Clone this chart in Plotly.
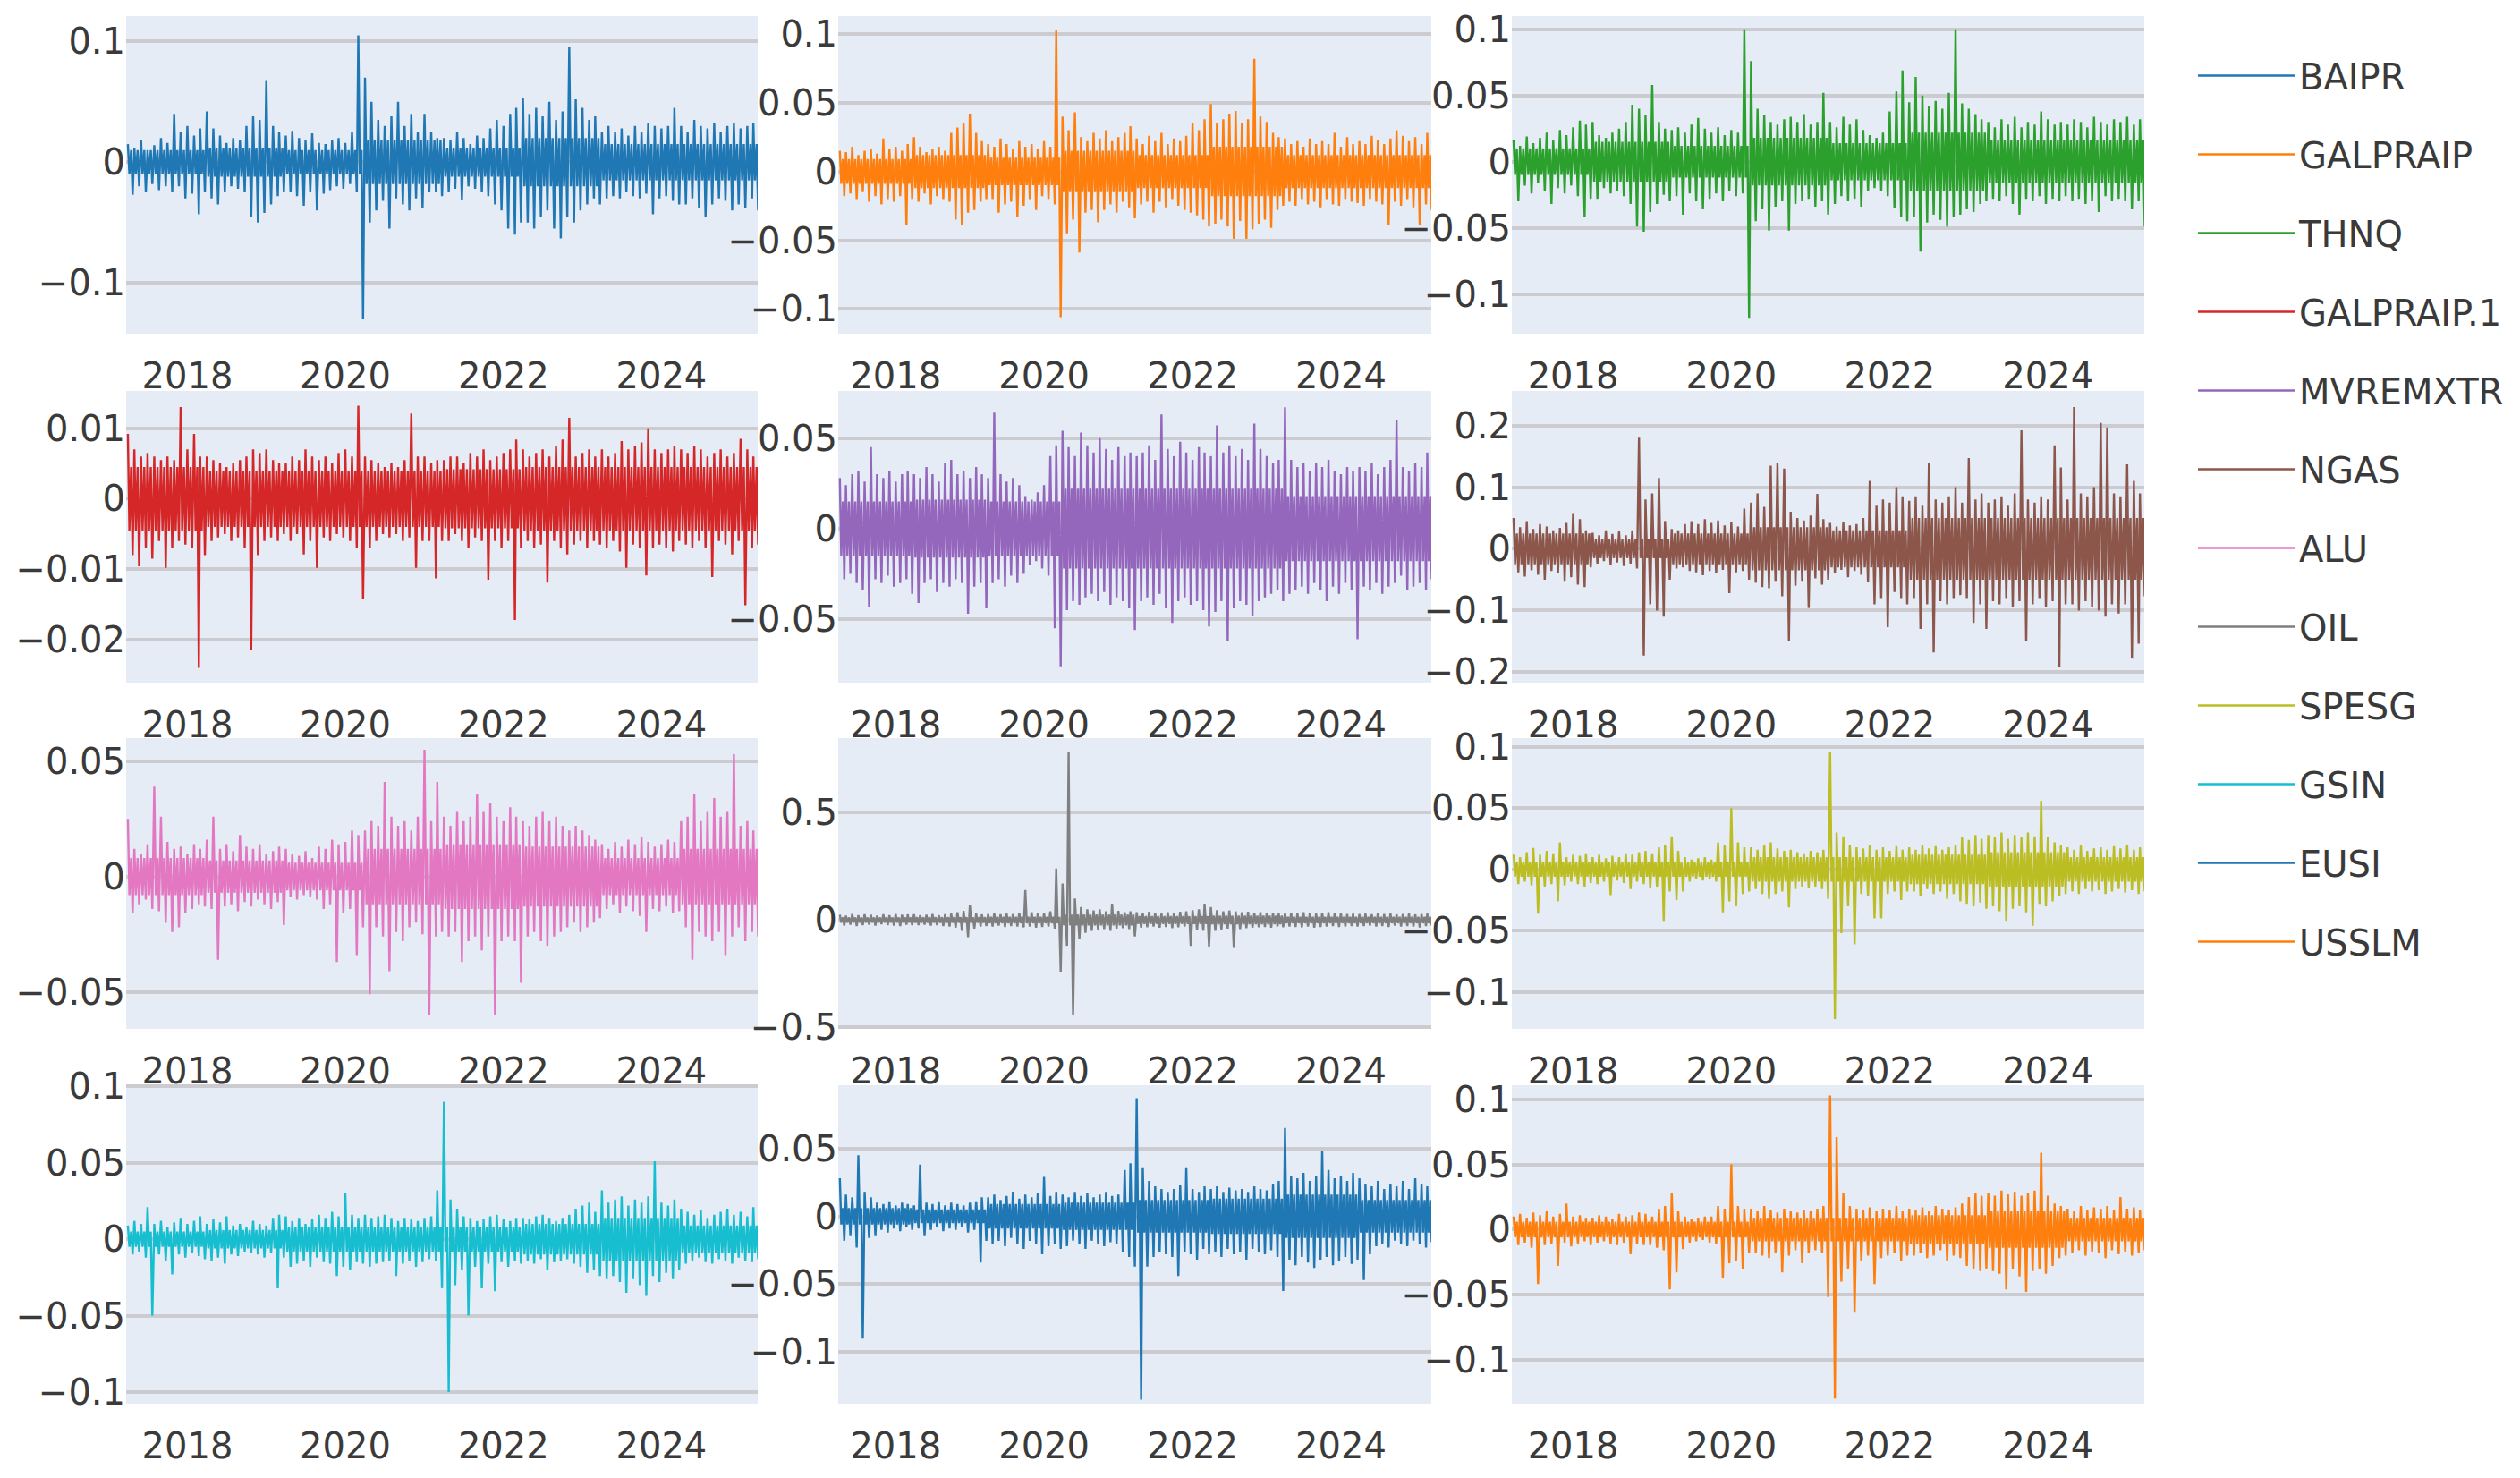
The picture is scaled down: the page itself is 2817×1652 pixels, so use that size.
import pandas as pd
import plotly.graph_objects as go

# Monthly high / low of daily returns, in percent, Apr 2017 .. Mar 2025 (96 months)
MONTHS = pd.date_range("2017-04-01", periods=96, freq="MS")

BAIPR_HI = [1.5,1.2,1.8,1.0,1.4,2.0,1.6,4.0,2.5,3.0,2.2,2.8,
            4.2,2.8,2.2,1.6,2.0,1.8,3.0,3.8,3.5,6.8,3.0,2.5,
            2.2,2.6,2.0,1.8,2.4,1.6,1.5,1.8,2.0,1.6,2.5,10.5,
            7.0,5.0,3.5,3.0,3.8,5.0,3.0,4.0,2.5,4.0,2.5,2.0,
            2.0,1.8,2.5,2.0,1.5,2.2,2.0,2.8,3.5,3.0,4.0,4.5,
            5.3,4.0,4.5,3.8,5.0,3.5,4.2,9.5,5.2,4.5,3.5,3.8,
            2.5,3.0,2.5,2.8,2.2,3.0,2.5,3.2,3.0,2.8,3.0,4.5,
            3.0,2.5,3.5,3.0,2.8,3.2,2.5,3.0,3.2,2.8,3.0,3.2]
BAIPR_LO = [-2.7,-2.0,-2.5,-1.8,-2.3,-2.0,-2.5,-2.0,-3.0,-2.6,-4.3,-2.5,
            -3.0,-3.5,-2.5,-2.0,-2.2,-2.5,-4.5,-5.0,-4.2,-3.5,-2.8,-2.5,
            -2.5,-2.8,-3.6,-2.5,-4.0,-2.6,-2.3,-2.0,-2.2,-1.8,-2.5,-13.0,
            -5.0,-4.0,-3.2,-5.5,-3.0,-3.5,-4.0,-3.0,-3.8,-2.5,-2.5,-2.8,
            -2.5,-2.2,-3.1,-2.0,-2.2,-2.5,-2.8,-3.5,-4.0,-5.5,-6.0,-5.0,
            -5.0,-5.5,-4.5,-4.0,-5.5,-6.3,-4.5,-5.0,-4.0,-3.5,-3.0,-3.5,
            -3.0,-2.8,-3.0,-2.5,-2.8,-3.0,-2.6,-4.3,-3.0,-2.8,-3.2,-3.5,
            -3.5,-3.0,-3.8,-4.5,-3.5,-3.0,-3.2,-4.0,-3.5,-3.8,-3.0,-4.0]

GALPRAIP_HI = [1.5,1.4,1.8,1.2,1.5,1.6,1.3,2.4,1.6,1.8,1.5,2.0,
               2.5,1.8,1.4,1.6,1.8,1.5,2.8,3.2,3.5,4.2,2.8,2.2,
               2.0,1.8,2.4,2.0,1.6,2.2,1.8,2.0,1.6,2.2,1.8,10.3,
               4.0,3.0,4.3,2.5,2.2,2.8,2.4,3.0,2.2,2.5,2.8,3.3,
               2.4,2.0,2.6,2.2,2.8,2.0,2.4,2.2,2.6,3.5,3.0,3.8,
               4.9,3.5,3.8,4.2,4.4,3.5,3.8,8.2,4.0,3.6,2.8,2.5,
               2.4,2.0,2.2,1.8,2.4,2.0,2.2,2.0,2.8,1.8,2.5,2.0,
               2.2,2.0,2.6,2.3,2.0,2.4,3.0,2.6,2.2,2.5,2.0,2.8]
GALPRAIP_LO = [-1.8,-1.6,-2.0,-1.5,-2.2,-1.8,-2.4,-2.0,-2.2,-1.8,-3.9,-2.0,
               -2.2,-1.6,-2.4,-1.8,-2.0,-2.2,-3.5,-3.9,-3.0,-2.8,-2.2,-2.0,
               -2.0,-3.0,-2.4,-2.2,-3.3,-2.5,-2.0,-2.8,-1.8,-2.0,-2.4,-10.6,
               -4.5,-3.5,-5.9,-3.0,-2.8,-3.7,-2.8,-2.4,-3.0,-2.2,-2.6,-3.4,
               -2.4,-2.2,-3.0,-2.2,-2.6,-2.0,-2.5,-2.8,-3.0,-3.2,-3.5,-4.0,
               -3.8,-3.5,-4.0,-4.9,-3.6,-4.9,-4.2,-3.8,-3.5,-4.1,-2.8,-2.5,
               -2.2,-2.5,-2.0,-2.4,-2.2,-2.6,-2.0,-2.4,-2.5,-2.0,-2.2,-2.3,
               -2.5,-2.0,-2.2,-2.4,-3.9,-2.2,-2.5,-2.0,-2.6,-3.9,-2.4,-2.8]

THNQ_HI = [1.6,1.2,1.9,1.4,1.8,2.2,1.6,2.4,2.0,2.6,3.1,2.8,
           3.0,2.0,1.8,2.2,2.5,3.0,4.3,4.0,3.5,5.8,3.0,2.5,
           2.4,2.6,2.2,2.8,3.3,2.5,2.2,2.6,2.0,2.4,2.2,10.0,
           7.6,4.0,3.5,3.0,2.8,3.2,3.4,3.0,3.6,2.8,3.0,5.2,
           3.0,2.6,3.4,2.8,3.2,2.4,2.0,1.8,2.2,3.8,5.3,6.9,
           4.5,6.4,5.0,4.2,4.6,4.0,5.2,10.0,4.4,4.0,3.6,3.2,
           3.0,2.6,3.2,2.8,3.4,2.6,3.0,2.8,3.8,3.2,2.8,3.0,
           2.8,3.2,3.0,2.6,3.4,3.0,2.8,3.2,3.0,3.4,2.8,3.2]
THNQ_LO = [-3.0,-1.8,-2.4,-1.6,-2.2,-3.2,-2.0,-2.4,-1.8,-2.6,-4.2,-2.8,
           -2.8,-2.0,-2.4,-2.2,-2.6,-3.2,-4.9,-5.3,-3.8,-3.2,-2.5,-3.0,
           -2.6,-4.0,-2.4,-3.0,-3.6,-2.8,-2.4,-3.0,-2.2,-2.6,-2.4,-11.8,
           -4.5,-3.6,-5.2,-3.4,-3.0,-5.2,-3.2,-3.0,-2.8,-3.4,-3.0,-4.0,
           -3.2,-2.6,-3.0,-2.8,-3.4,-2.2,-2.0,-2.2,-2.6,-3.5,-4.2,-4.5,
           -4.2,-6.8,-4.6,-4.0,-4.4,-4.9,-4.2,-4.0,-3.6,-3.8,-3.2,-3.0,
           -2.8,-3.0,-2.6,-3.2,-4.0,-2.8,-3.0,-2.6,-3.2,-2.8,-3.0,-2.6,
           -3.0,-2.8,-3.2,-3.0,-3.8,-2.6,-3.0,-2.8,-3.0,-3.6,-3.0,-4.9]

GALPRAIP1_HI = [0.92,0.7,0.6,0.65,0.6,0.55,0.6,0.55,1.3,0.7,0.92,0.6,
                0.6,0.55,0.5,0.45,0.5,0.55,0.6,0.7,0.65,0.7,0.55,0.5,
                0.5,0.6,0.55,0.7,0.6,0.55,0.6,0.5,0.65,0.7,0.6,1.32,
                0.6,0.55,0.5,0.45,0.5,0.45,0.55,1.21,0.6,0.6,0.5,0.55,
                0.55,0.6,0.6,0.5,0.65,0.6,0.7,0.55,0.6,0.65,0.7,0.84,
                0.7,0.6,0.65,0.7,0.6,0.75,0.84,1.15,0.6,0.65,0.7,0.6,
                0.7,0.6,0.65,0.82,0.7,0.75,0.8,1.0,0.7,0.65,0.7,0.75,
                0.7,0.65,0.75,0.7,0.6,0.65,0.7,0.6,0.65,0.85,0.7,0.6]
GALPRAIP1_LO = [-0.8,-0.96,-0.7,-0.85,-0.6,-0.98,-0.7,-0.6,-0.65,-0.7,-2.4,-0.8,
                -0.6,-0.55,-0.5,-0.6,-0.55,-0.7,-2.14,-0.8,-0.6,-0.55,-0.6,-0.5,
                -0.6,-0.5,-0.79,-0.6,-0.98,-0.55,-0.6,-0.5,-0.55,-0.6,-0.7,-1.43,
                -0.7,-0.6,-0.5,-0.55,-0.5,-0.6,-0.55,-0.98,-0.6,-0.6,-1.13,-0.6,
                -0.6,-0.5,-0.6,-0.7,-0.55,-0.6,-1.15,-0.6,-0.7,-0.6,-1.72,-0.7,
                -0.6,-0.7,-0.65,-1.19,-0.6,-0.7,-0.79,-0.65,-0.6,-0.7,-0.6,-0.65,
                -0.7,-0.6,-0.75,-0.98,-0.65,-0.7,-1.09,-0.7,-0.65,-0.7,-0.75,-0.6,
                -0.65,-0.7,-0.6,-0.7,-1.11,-0.6,-0.65,-0.79,-0.6,-1.51,-0.7,-0.65]

MVREMXTR_HI = [2.8,2.4,3.0,3.2,2.6,4.5,3.0,2.8,3.2,2.6,3.0,3.2,
               3.0,2.8,3.4,3.0,2.6,3.6,3.8,3.0,3.2,2.8,3.4,3.0,
               2.8,6.4,3.0,2.6,2.8,2.4,1.8,1.6,2.0,2.4,4.0,4.6,
               5.4,4.5,4.0,5.3,4.6,4.2,5.0,4.4,3.8,4.5,4.0,4.2,
               4.0,4.2,4.6,3.8,6.3,4.4,4.0,4.8,4.2,3.8,4.5,4.2,
               4.0,5.7,4.2,4.6,4.0,4.4,3.8,5.8,4.4,4.0,3.6,3.8,
               6.7,3.8,3.4,3.6,3.2,3.6,3.4,3.8,3.2,3.0,3.4,3.2,
               3.4,3.2,3.6,3.0,3.4,3.8,6.0,3.4,3.2,3.6,3.4,4.2]
MVREMXTR_LO = [-2.8,-2.5,-3.0,-3.4,-4.3,-2.8,-3.0,-2.6,-3.2,-3.0,-2.8,-3.6,
               -4.1,-3.0,-2.8,-3.5,-3.0,-3.2,-2.8,-3.0,-4.7,-3.2,-3.0,-4.4,
               -3.0,-2.8,-3.2,-2.6,-3.0,-2.5,-2.0,-1.8,-2.2,-2.6,-5.5,-7.6,
               -4.5,-4.0,-4.2,-3.8,-3.6,-4.0,-3.5,-4.2,-3.8,-4.0,-4.4,-5.6,
               -4.0,-3.8,-4.2,-3.6,-4.4,-5.2,-4.0,-3.8,-4.2,-4.0,-4.5,-5.4,
               -4.6,-4.0,-6.2,-4.4,-4.0,-4.2,-4.8,-4.0,-3.8,-3.6,-3.4,-4.0,
               -3.6,-3.4,-3.2,-3.6,-3.0,-3.4,-4.0,-3.2,-3.6,-3.0,-3.4,-6.1,
               -3.2,-3.4,-3.0,-3.6,-3.2,-3.0,-2.6,-3.4,-3.2,-3.0,-3.4,-2.8]

NGAS_HI = [5.0,3.5,4.5,3.2,4.0,3.6,3.0,3.4,4.2,5.8,4.8,3.0,
           2.6,2.2,3.0,2.4,2.8,2.2,3.0,18.0,8.0,9.0,11.5,4.5,
           3.2,3.0,4.0,4.5,4.0,4.8,4.2,4.6,3.8,4.4,3.6,6.5,
           7.5,9.0,6.8,13.5,14.0,13.0,6.0,5.0,4.6,5.4,8.9,4.8,
           4.2,3.6,4.4,3.8,4.0,5.0,11.0,7.0,8.0,7.5,10.0,8.5,
           7.8,8.5,7.0,14.0,8.0,7.5,8.5,10.0,7.5,14.7,8.0,9.0,
           7.5,8.0,8.5,7.0,9.0,19.2,8.0,7.5,8.5,8.0,16.8,13.2,
           8.0,23.0,9.0,8.5,10.0,20.4,19.7,9.0,8.5,13.7,11.0,9.0]
NGAS_LO = [-3.8,-4.5,-3.5,-4.2,-5.0,-3.6,-4.0,-5.2,-4.6,-5.8,-6.2,-3.0,
           -2.4,-2.0,-2.6,-2.2,-2.8,-2.4,-3.2,-17.3,-9.0,-10.0,-11.0,-5.0,
           -3.2,-3.0,-3.6,-3.8,-4.3,-3.6,-4.0,-3.4,-7.2,-3.8,-3.6,-5.0,
           -5.5,-6.2,-6.4,-5.2,-7.7,-15.0,-6.0,-5.2,-9.6,-4.8,-5.8,-5.0,
           -4.0,-3.4,-4.6,-3.6,-4.2,-5.4,-9.0,-8.0,-12.7,-7.0,-8.0,-9.0,
           -8.0,-13.0,-9.0,-16.8,-8.5,-9.0,-8.0,-7.5,-8.0,-12.0,-9.0,-13.0,
           -8.5,-9.0,-8.0,-9.5,-8.5,-15.0,-9.0,-8.0,-9.5,-8.5,-19.2,-9.0,
           -9.0,-10.0,-8.5,-9.5,-10.0,-11.0,-9.0,-10.5,-9.0,-17.8,-15.4,-7.7]

ALU_HI = [2.5,1.2,1.0,1.4,3.9,2.6,1.5,1.2,1.3,1.0,1.4,1.2,
          1.6,2.6,1.2,1.4,1.1,1.8,1.3,1.2,1.4,1.0,1.1,1.3,
          1.2,1.0,0.9,1.1,0.8,1.3,1.2,1.6,1.4,1.5,2.0,1.8,
          2.0,2.4,2.2,4.1,2.6,2.2,2.4,2.0,2.6,5.5,2.4,4.1,
          2.6,2.2,2.8,2.4,2.6,3.6,2.8,3.2,2.6,2.4,3.0,2.6,
          2.4,2.2,2.6,2.8,2.4,2.6,2.2,2.0,2.2,2.0,1.8,1.6,
          1.4,1.2,1.5,1.3,1.6,1.4,1.7,1.5,1.3,1.4,1.6,1.5,
          2.4,2.6,3.6,2.4,2.8,3.4,2.6,2.8,5.3,2.2,2.4,2.0]
ALU_LO = [-1.6,-1.2,-1.0,-1.4,-1.5,-2.0,-2.4,-2.2,-1.6,-1.4,-1.2,-1.3,
          -1.4,-3.6,-1.3,-1.2,-1.5,-1.1,-1.3,-1.0,-1.2,-1.4,-1.1,-2.1,
          -0.9,-1.0,-0.8,-0.9,-1.0,-1.4,-1.2,-3.7,-1.6,-1.4,-3.4,-2.2,
          -5.1,-2.2,-2.6,-4.1,-2.4,-2.8,-2.2,-2.0,-2.5,-6.0,-2.6,-2.4,
          -2.6,-2.4,-3.7,-2.8,-2.6,-3.2,-2.6,-6.0,-2.8,-2.6,-2.8,-4.6,
          -2.6,-2.4,-2.8,-3.0,-2.6,-2.4,-2.2,-2.0,-2.4,-2.2,-2.0,-1.8,
          -1.4,-1.2,-1.6,-1.3,-1.5,-1.7,-2.4,-1.4,-1.5,-1.3,-1.6,-1.5,
          -2.2,-3.6,-2.4,-2.6,-2.8,-2.4,-3.4,-2.6,-2.2,-2.8,-2.4,-2.6]

OIL_HI = [2.4,2.0,2.8,2.2,2.6,2.4,2.0,2.6,2.2,2.8,2.4,2.6,
          2.6,2.2,2.4,2.8,2.2,2.6,3.0,3.6,4.2,7.0,3.0,2.6,
          2.8,3.2,2.6,3.0,2.8,3.4,14.0,3.6,3.0,3.2,4.0,24.0,
          17.0,78.0,10.0,6.0,5.0,4.5,5.0,4.0,7.6,4.2,3.6,4.0,
          3.6,3.2,3.8,3.4,3.0,3.6,3.2,3.8,4.0,4.6,5.0,7.6,
          6.0,4.6,4.0,4.4,4.0,3.6,3.8,3.4,3.6,3.2,3.4,3.0,
          3.2,3.4,3.0,3.6,3.2,3.0,3.4,3.6,3.0,3.2,2.8,3.0,
          2.8,3.0,2.6,3.2,2.8,3.0,2.6,2.8,3.0,2.6,2.8,3.0]
OIL_LO = [-2.6,-2.2,-2.8,-2.4,-2.2,-2.6,-2.0,-2.4,-2.6,-2.8,-2.2,-2.4,
          -2.4,-2.2,-2.6,-2.4,-2.8,-3.0,-3.6,-5.0,-8.0,-4.0,-3.0,-2.8,
          -3.0,-2.6,-3.2,-2.8,-3.0,-3.4,-3.0,-3.6,-3.2,-3.0,-4.0,-24.0,
          -12.0,-44.0,-9.0,-6.0,-5.0,-4.6,-4.2,-5.0,-4.0,-3.8,-4.2,-7.6,
          -3.6,-3.4,-3.0,-3.6,-3.2,-3.8,-3.4,-3.0,-12.0,-4.6,-5.0,-12.5,
          -5.0,-4.4,-4.0,-13.0,-4.2,-3.8,-3.6,-3.4,-3.2,-3.6,-3.0,-3.4,
          -3.0,-3.2,-3.4,-3.0,-3.6,-3.2,-3.0,-2.8,-3.2,-3.0,-2.8,-3.0,
          -2.8,-2.6,-3.0,-2.8,-3.2,-2.6,-3.0,-2.8,-3.0,-3.4,-2.8,-2.6]

SPESG_HI = [1.2,1.0,1.4,1.75,1.2,1.5,1.3,2.2,1.0,1.2,1.1,1.3,
            1.0,1.2,0.9,1.1,1.0,1.3,1.2,1.4,1.5,1.3,1.8,2.0,
            2.7,1.5,1.0,0.8,0.9,1.0,0.8,2.2,2.0,5.0,2.2,1.8,
            1.8,1.6,2.0,2.2,1.7,1.5,1.6,1.4,1.3,1.5,1.4,1.6,
            9.6,3.0,2.7,2.0,1.8,1.7,2.0,1.6,1.8,1.5,1.9,1.6,
            1.8,1.6,2.0,1.7,1.9,1.6,1.8,2.0,2.6,2.4,2.8,2.5,
            2.8,2.6,3.0,2.5,2.8,2.6,3.0,2.7,5.6,2.6,2.2,2.0,
            1.8,1.6,2.0,1.5,1.7,1.8,1.6,1.9,1.7,2.0,1.6,1.8]
SPESG_LO = [-1.2,-1.0,-1.3,-3.6,-1.4,-1.2,-2.6,-1.3,-1.0,-1.2,-1.4,-1.1,
            -1.2,-1.0,-2.1,-0.9,-1.1,-1.6,-1.0,-1.2,-1.5,-1.4,-4.2,-1.8,
            -2.5,-1.8,-1.0,-0.8,-0.9,-0.8,-1.0,-3.5,-2.6,-3.0,-2.0,-1.8,
            -1.6,-2.0,-2.4,-2.0,-1.8,-3.1,-1.6,-1.4,-1.5,-1.4,-1.6,-2.4,
            -12.2,-5.2,-3.0,-6.1,-2.0,-2.2,-4.0,-4.0,-2.0,-1.8,-2.5,-1.8,
            -1.8,-2.2,-1.6,-2.0,-1.8,-2.4,-2.0,-2.6,-2.8,-3.0,-2.7,-3.2,
            -3.0,-3.4,-4.2,-3.2,-3.0,-3.5,-4.6,-2.8,-3.0,-2.6,-2.2,-2.0,
            -1.8,-2.0,-1.6,-1.8,-1.7,-2.0,-1.8,-1.6,-1.9,-1.7,-2.0,-1.8]

GSIN_HI = [0.9,1.2,1.0,2.1,1.0,1.2,0.8,1.1,1.4,1.0,1.2,1.5,
           1.0,1.3,1.1,1.5,0.9,1.0,0.8,1.2,1.0,0.9,1.4,1.6,
           1.5,1.2,1.4,1.0,1.3,1.6,1.4,1.8,1.5,3.0,1.6,1.4,
           1.6,1.4,1.5,1.6,1.4,1.2,1.4,1.3,1.2,1.4,1.5,3.2,
           9.0,2.6,2.0,1.5,1.4,1.2,1.3,1.5,1.6,1.3,1.2,1.4,
           1.4,1.3,1.5,1.6,1.4,1.2,1.4,1.6,2.0,2.2,2.4,1.8,
           3.2,2.4,2.6,2.8,2.2,2.6,2.4,2.8,5.1,2.4,2.2,2.6,
           2.0,1.8,1.6,1.9,1.4,1.6,1.8,2.0,1.6,1.8,1.5,2.1]
GSIN_LO = [-1.0,-0.8,-1.2,-5.0,-1.0,-1.4,-2.3,-1.0,-1.2,-0.9,-1.1,-1.3,
           -1.4,-1.2,-1.6,-1.0,-1.1,-0.8,-0.9,-1.0,-1.2,-0.9,-3.2,-1.2,
           -1.8,-1.6,-1.4,-1.8,-1.2,-1.5,-1.6,-2.4,-1.8,-2.0,-1.5,-1.6,
           -1.8,-1.6,-1.5,-1.4,-2.4,-1.6,-1.4,-1.8,-1.5,-1.3,-1.4,-3.2,
           -10.0,-3.0,-2.0,-5.0,-1.8,-3.2,-1.6,-3.4,-1.5,-1.8,-1.4,-1.6,
           -1.4,-1.6,-1.3,-2.0,-1.5,-1.4,-1.3,-1.6,-1.8,-2.2,-2.0,-2.4,
           -2.6,-2.4,-2.8,-3.5,-2.6,-3.0,-3.7,-2.4,-2.8,-2.2,-2.6,-2.0,
           -1.6,-1.4,-1.2,-1.5,-1.6,-1.3,-1.4,-1.6,-1.2,-1.4,-1.5,-1.3]

EUSI_HI = [2.8,1.6,1.4,4.5,1.8,1.4,1.0,0.9,1.1,0.8,1.0,0.9,
           0.8,3.8,1.0,0.9,1.1,0.8,1.0,0.9,0.8,1.0,1.1,1.4,
           1.4,1.6,1.2,1.5,1.8,1.3,1.6,1.4,1.7,2.9,1.5,1.8,
           1.6,1.4,1.8,1.5,1.7,1.4,1.6,1.8,1.5,1.6,3.4,3.9,
           8.7,3.6,2.6,2.2,2.0,1.8,2.0,2.3,3.6,2.0,1.8,2.2,
           2.0,2.2,1.8,2.1,1.9,2.0,1.8,2.2,2.0,1.9,2.4,2.6,
           6.5,3.0,2.8,3.2,2.6,3.0,4.8,3.4,2.8,3.0,2.6,3.2,
           2.8,2.4,2.2,2.6,2.0,2.4,2.2,2.6,2.0,2.8,2.4,2.2]
EUSI_LO = [-1.8,-1.4,-2.3,-9.0,-1.6,-1.4,-1.0,-1.2,-0.9,-1.1,-0.8,-1.0,
           -0.9,-1.4,-1.0,-0.8,-1.1,-0.9,-1.0,-0.8,-1.2,-1.0,-3.4,-1.8,
           -2.0,-1.8,-2.2,-1.6,-2.0,-2.4,-1.8,-2.0,-2.8,-2.2,-2.0,-2.4,
           -2.2,-1.8,-2.0,-2.4,-1.8,-2.0,-2.2,-1.9,-2.0,-2.6,-3.0,-3.7,
           -13.5,-3.7,-3.0,-2.6,-2.8,-3.0,-4.4,-2.6,-2.8,-3.2,-2.4,-2.8,
           -2.6,-3.0,-2.4,-2.8,-2.6,-3.2,-2.4,-2.6,-2.8,-2.5,-3.0,-5.5,
           -3.2,-3.6,-3.0,-3.4,-3.8,-3.2,-3.0,-3.6,-3.3,-3.0,-3.5,-3.2,
           -4.7,-2.8,-2.2,-2.0,-2.3,-1.8,-2.0,-2.2,-1.8,-2.0,-2.3,-1.9]

USSLM_HI = [1.0,1.2,0.9,1.3,1.1,1.4,1.0,1.2,2.0,1.0,1.1,0.9,
            0.9,1.1,1.0,0.8,1.2,1.0,1.1,1.3,1.2,1.0,1.6,1.8,
            2.8,1.4,1.0,0.8,0.9,1.0,1.0,1.8,1.6,5.0,1.8,1.6,
            1.6,1.4,1.8,1.5,1.3,1.6,1.4,1.3,1.5,1.4,1.6,1.8,
            10.3,7.1,2.8,1.8,1.6,1.5,1.7,1.4,1.6,1.5,1.8,1.4,
            1.6,1.5,1.7,1.4,1.8,1.6,1.5,1.7,2.0,2.5,2.8,2.6,
            2.8,2.6,3.0,2.7,2.9,2.6,2.8,3.0,5.9,2.6,2.0,1.8,
            1.6,1.4,1.8,1.5,1.7,1.6,1.8,1.5,2.5,1.6,1.7,1.5]
USSLM_LO = [-1.2,-1.0,-1.4,-4.2,-1.2,-1.1,-2.8,-1.0,-1.3,-1.1,-0.9,-1.2,
            -1.0,-0.9,-1.1,-1.2,-1.0,-1.9,-1.1,-1.2,-1.2,-1.4,-1.6,-4.6,
            -3.3,-1.5,-1.0,-0.9,-0.8,-1.0,-1.1,-3.7,-2.6,-2.4,-3.0,-1.8,
            -1.8,-2.0,-2.2,-1.8,-3.3,-2.0,-1.6,-2.6,-1.8,-1.6,-1.8,-5.2,
            -13.0,-4.0,-3.0,-6.4,-2.4,-2.0,-4.2,-2.2,-2.0,-1.8,-2.4,-2.0,
            -2.0,-1.8,-2.2,-2.0,-1.6,-2.4,-2.0,-2.2,-2.8,-3.0,-3.2,-3.0,
            -3.2,-3.4,-4.6,-3.0,-3.6,-4.8,-3.2,-3.0,-3.4,-2.8,-2.2,-2.0,
            -1.8,-1.6,-2.0,-1.7,-1.8,-2.2,-1.6,-1.9,-1.7,-2.0,-1.8,-1.6]

# Typical (core band) daily move per year Apr..Mar, in percent
BAIPR_CORE = [1.0, 1.2, 1.0, 1.8, 1.2, 2.0, 1.5, 1.5]
GALPRAIP_CORE = [0.9, 1.2, 1.0, 1.5, 1.2, 1.8, 1.2, 1.2]
THNQ_CORE = [1.0, 1.5, 1.2, 1.8, 1.4, 2.2, 1.6, 1.6]
GALPRAIP1_CORE = [0.45, 0.4, 0.4, 0.4, 0.42, 0.45, 0.45, 0.45]
MVREMXTR_CORE = [1.5, 1.6, 1.5, 2.2, 2.2, 2.2, 1.8, 1.8]
NGAS_CORE = [2.5, 1.5, 2.5, 3.5, 3.0, 5.0, 5.0, 5.0]
ALU_CORE = [0.8, 0.7, 0.6, 1.2, 1.4, 1.3, 0.8, 1.2]
OIL_CORE = [1.2, 1.3, 1.5, 2.5, 1.8, 2.0, 1.5, 1.5]
SPESG_CORE = [0.6, 0.6, 0.6, 1.0, 1.0, 1.2, 1.4, 1.0]
GSIN_CORE = [0.5, 0.6, 0.8, 0.8, 0.8, 1.0, 1.4, 0.9]
EUSI_CORE = [0.6, 0.5, 0.9, 1.0, 1.2, 1.3, 1.6, 1.2]
USSLM_CORE = [0.6, 0.6, 0.6, 0.9, 0.9, 1.1, 1.4, 0.9]

NAMES = ["BAIPR", "GALPRAIP", "THNQ", "GALPRAIP.1", "MVREMXTR", "NGAS",
         "ALU", "OIL", "SPESG", "GSIN", "EUSI", "USSLM"]
HIGHS = [BAIPR_HI, GALPRAIP_HI, THNQ_HI, GALPRAIP1_HI, MVREMXTR_HI, NGAS_HI,
         ALU_HI, OIL_HI, SPESG_HI, GSIN_HI, EUSI_HI, USSLM_HI]
LOWS = [BAIPR_LO, GALPRAIP_LO, THNQ_LO, GALPRAIP1_LO, MVREMXTR_LO, NGAS_LO,
        ALU_LO, OIL_LO, SPESG_LO, GSIN_LO, EUSI_LO, USSLM_LO]
CORES = [BAIPR_CORE, GALPRAIP_CORE, THNQ_CORE, GALPRAIP1_CORE, MVREMXTR_CORE,
         NGAS_CORE, ALU_CORE, OIL_CORE, SPESG_CORE, GSIN_CORE, EUSI_CORE, USSLM_CORE]

# ---- styling / layout ----
COLORS = ["#1f77b4", "#ff7f0e", "#2ca02c", "#d62728", "#9467bd", "#8c564b",
          "#e377c2", "#7f7f7f", "#bcbd22", "#17becf", "#1f77b4", "#ff7f0e"]
Y_RANGES = [[-0.142, 0.121], [-0.118, 0.113], [-0.130, 0.110],
            [-0.0261, 0.0153], [-0.085, 0.076], [-0.217, 0.256],
            [-0.066, 0.060], [-0.507, 0.847], [-0.130, 0.107],
            [-0.1076, 0.1008], [-0.138, 0.0965], [-0.134, 0.111]]
Y_DTICKS = [0.1, 0.05, 0.05, 0.01, 0.05, 0.1, 0.05, 0.5, 0.05, 0.05, 0.05, 0.05]

W, H = 2817, 1652
PAGE = 8  # default page margin of the html body


def fx(px):
    return (px - PAGE) / W


def fy(py):
    return 1 - (py - PAGE) / H


X_DOMS = [[fx(141), fx(847)], [fx(937), fx(1600)], [fx(1690), fx(2397)]]
Y_DOMS = [[fy(373), fy(18)], [fy(763), fy(437)], [fy(1150), fy(825)], [fy(1569), fy(1213)]]
X_RANGE = ["2017-03-24", "2025-03-21"]
FONT = "DejaVu Sans"
TICK_COLOR = "#3a3a3a"

# within each month: high, -core, +core, low
DAY_OFFSETS = [0, 7, 15, 22]
x_vals = []
for m in MONTHS:
    for d in DAY_OFFSETS:
        x_vals.append(m + pd.Timedelta(days=d))

fig = go.Figure()
layout = {}
for i, name in enumerate(NAMES):
    r, c = divmod(i, 3)
    y_vals = []
    for k, (h, l) in enumerate(zip(HIGHS[i], LOWS[i])):
        core = CORES[i][k // 12]
        y_vals.extend([h / 100.0, -core / 100.0, core / 100.0, l / 100.0])
    sfx = "" if i == 0 else str(i + 1)
    fig.add_trace(go.Scatter(
        x=x_vals, y=y_vals, mode="lines", name=name,
        line=dict(color=COLORS[i], width=2.4),
        xaxis="x" + sfx, yaxis="y" + sfx,
        legendgroup=name, showlegend=True,
    ))
    layout["xaxis" + sfx] = dict(
        domain=X_DOMS[c], anchor="y" + sfx, type="date", range=X_RANGE,
        tick0="2018-01-01", dtick="M24", tickformat="%Y",
        showgrid=False, zeroline=False, showline=False,
        ticks="outside", ticklen=12, tickcolor="rgba(0,0,0,0)",
        tickfont=dict(family=FONT, size=40, color=TICK_COLOR),
    )
    layout["yaxis" + sfx] = dict(
        domain=Y_DOMS[r], anchor="x" + sfx, range=Y_RANGES[i],
        tick0=0, dtick=Y_DTICKS[i], showgrid=True,
        gridcolor="#CBCBD0", gridwidth=3.5, zeroline=False, showline=False,
        ticks="", tickfont=dict(family=FONT, size=40, color=TICK_COLOR),
    )

fig.update_layout(
    width=W, height=H,
    margin=dict(l=0, r=0, t=0, b=0, autoexpand=False),
    paper_bgcolor="white", plot_bgcolor="#E5ECF6",
    font=dict(family=FONT, size=40, color=TICK_COLOR),
    legend=dict(x=(2452 - PAGE) / W, y=fy(52), xanchor="left", yanchor="top",
                font=dict(family=FONT, size=40, color=TICK_COLOR),
                itemwidth=108, tracegroupgap=33, bgcolor="rgba(0,0,0,0)"),
    **layout,
)
fig.write_html("out.html")
